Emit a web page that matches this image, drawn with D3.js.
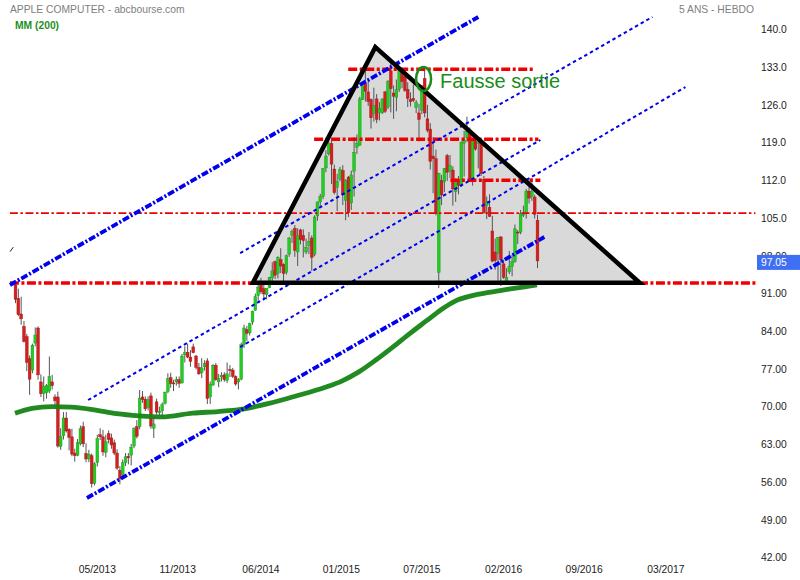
<!DOCTYPE html>
<html><head><meta charset="utf-8">
<script src="https://cdn.jsdelivr.net/npm/d3@7"></script>
<style>
html,body{margin:0;padding:0;background:#fff;}
svg{display:block;font-family:"Liberation Sans",Arial,sans-serif;}
</style></head>
<body><svg id="c" width="800" height="580"></svg>
<script>
// ---- data (weekly candles, index 0 = week of 12/10/2012) ----
const open = [92.6,90.1,87.2,84.9,83.0,78.9,76.8,81.8,84.6,74.6,72.4,72.6,72.9,74.6,71.8,71.8,62.6,64.6,67.9,65.8,
64.4,61.4,61.0,63.1,66.3,61.3,60.3,60.9,55.8,59.6,64.8,64.4,61.5,65.0,64.2,63.3,61.4,58.2,57.4,59.6,
60.8,61.0,62.7,66.3,66.3,71.8,71.4,69.8,72.0,66.0,70.9,68.9,69.2,70.6,72.8,75.4,74.4,74.6,75.0,74.4,
79.6,80.1,79.2,81.1,79.4,77.3,76.3,77.4,78.5,71.8,74.0,77.7,74.6,75.5,75.9,74.9,76.9,76.8,75.6,74.6,
75.1,81.5,84.3,83.7,85.7,87.9,90.6,92.7,91.9,90.8,92.1,93.9,96.9,94.7,97.3,96.4,94.9,98.3,101.8,103.1,
98.7,102.8,101.8,98.7,99.9,101.3,98.3,105.4,108.0,109.0,114.3,116.9,118.8,114.1,110.7,112.2,113.8,108.3,112.6,107.8,
113.7,118.1,118.5,127.0,130.0,128.4,127.0,124.4,127.1,124.6,124.5,128.4,125.6,132.3,128.2,127.4,128.9,132.6,131.2,128.9,
127.0,127.2,125.5,124.5,125.0,130.9,123.4,121.5,116.5,116.0,94.9,112.0,111.7,116.6,113.7,113.9,109.9,112.1,111.0,118.9,
119.9,121.1,112.2,119.3,118.8,119.0,112.2,107.3,107.0,102.6,98.7,98.4,101.5,96.5,93.1,95.0,96.0,96.9,102.4,102.4,
105.5,105.9,110.0,109.0,108.9,104.6];
const high = [93.4,91.9,90.4,85.9,83.5,79.5,81.7,84.7,84.9,76.0,75.6,74.2,79.3,75.9,72.3,72.8,66.0,69.0,69.0,66.0,
65.9,62.2,64.0,66.5,67.2,63.2,62.0,61.3,59.7,64.8,66.0,65.7,64.8,65.6,65.0,63.9,62.1,59.0,60.2,61.4,
61.4,63.1,66.2,67.5,73.1,72.9,71.9,71.9,72.6,68.1,71.5,70.0,70.8,72.8,76.2,76.3,75.0,75.6,75.6,79.8,
81.2,81.7,80.5,81.7,79.6,78.1,79.0,78.6,79.0,74.7,77.9,78.1,76.1,76.4,76.4,78.2,77.7,77.2,75.8,75.3,
81.9,85.2,85.0,85.6,87.8,91.0,92.9,93.9,92.6,92.0,94.1,96.8,97.1,97.9,99.4,96.6,98.2,101.5,102.9,103.7,
103.1,103.0,102.9,101.2,102.4,101.8,105.5,108.0,109.5,114.2,117.6,119.75,119.3,114.9,113.2,114.5,114.8,112.2,112.8,113.8,
120.0,120.5,127.5,129.6,133.6,130.6,127.2,129.2,128.0,126.5,127.2,128.6,130.6,134.5,129.6,130.7,133.0,132.9,131.4,130.2,
128.3,129.8,126.9,126.2,129.7,133.0,126.0,122.6,120.0,117.7,113.4,113.0,114.3,116.9,116.7,114.6,112.3,112.8,119.2,121.2,
123.8,121.8,119.4,119.7,119.4,119.7,112.8,109.0,109.4,105.4,101.2,101.5,101.6,97.3,95.7,98.9,98.2,103.8,102.8,106.5,
107.3,110.4,112.2,112.4,109.3,105.6];
const low = [89.2,86.8,85.2,81.9,76.6,72.2,76.2,81.2,75.0,71.8,71.0,71.5,72.5,73.2,70.0,62.4,62.0,63.9,65.2,61.9,
60.8,59.8,60.8,62.8,62.5,59.7,59.7,55.0,55.4,58.9,63.8,60.9,60.6,63.2,62.2,61.0,58.3,55.6,57.1,59.0,
59.3,59.1,62.3,64.1,65.8,70.7,69.2,69.3,65.9,64.2,68.5,68.4,67.9,70.4,72.5,73.5,72.9,73.9,73.5,74.3,
78.2,79.0,77.4,79.9,76.9,75.9,75.3,76.7,70.5,70.5,73.9,74.8,73.6,74.7,74.6,74.4,75.5,75.3,73.9,73.2,
74.9,80.9,82.2,83.2,85.2,87.8,89.6,90.9,89.7,89.9,92.0,93.1,93.7,93.8,94.8,93.3,94.5,97.8,100.4,97.8,
96.1,100.1,97.7,98.3,98.3,95.2,97.9,104.5,107.0,108.5,113.5,116.6,111.3,109.4,106.3,111.8,107.4,104.6,105.2,106.5,
109.0,116.9,118.4,126.9,126.6,125.8,121.6,122.9,122.6,123.1,124.3,124.5,125.2,124.6,123.4,124.8,128.4,129.1,128.4,125.6,
125.7,126.5,124.5,119.2,124.3,123.7,120.9,114.0,109.6,105.5,92.0,107.4,109.8,111.9,112.4,107.3,108.0,109.4,110.8,112.7,
119.1,112.1,111.0,117.5,114.2,112.8,105.8,104.8,105.2,96.8,95.4,93.4,92.4,93.7,92.6,94.6,94.2,96.7,100.2,102.0,
105.2,104.9,107.7,108.2,104.9,95.7];
const close = [89.9,87.1,86.3,82.1,78.2,75.1,81.4,83.3,75.9,72.4,73.8,73.9,75.6,73.9,71.1,62.7,64.5,67.9,65.5,64.3,
61.2,60.9,63.3,65.9,63.1,60.3,61.2,55.7,59.4,64.1,64.4,61.6,63.5,63.9,62.9,61.4,58.6,56.6,59.6,60.7,
60.5,62.5,65.9,64.5,71.6,71.3,69.6,71.3,66.4,66.8,69.0,69.1,70.4,72.7,75.2,74.3,74.3,75.0,74.3,79.4,
80.0,79.2,78.4,80.0,77.3,76.1,77.2,78.0,71.5,74.2,77.7,75.0,75.2,75.8,75.0,76.1,76.7,75.6,74.2,75.0,
81.5,84.6,83.6,85.4,87.7,90.4,92.2,91.3,90.9,92.0,94.0,95.2,94.4,97.7,96.1,94.7,98.0,101.3,102.5,99.0,
101.7,101.0,100.8,99.6,100.7,97.7,105.2,108.0,109.0,114.2,116.5,118.9,115.0,109.7,111.8,114.0,109.3,112.0,106.0,113.0,
117.2,118.9,127.1,129.5,128.5,126.6,123.6,125.9,123.3,125.3,127.1,124.8,130.3,129.0,127.6,128.8,132.5,130.3,128.7,127.2,
126.6,126.8,126.4,123.3,129.6,124.5,121.3,115.5,116.0,105.8,113.3,109.3,114.2,113.5,114.7,110.4,112.1,111.0,119.1,119.5,
121.1,112.3,119.3,117.8,119.0,113.2,106.0,108.0,105.3,97.0,97.1,101.4,97.3,94.0,94.0,96.0,96.9,103.0,102.3,105.9,
105.7,110.0,108.7,109.9,105.7,97.05];

// 200 MA: [week index, value]
const maIdx = [0,6,13,20,28,36,44,52,63,72,80,90,99,110,116,122,128,134,140,146,151,156,162,168,175,180,185];
const maVal = [68.8,69.7,70.0,69.9,69.4,68.7,68.3,68.1,68.8,69.1,69.5,70.6,71.9,73.6,74.8,76.5,78.7,81.1,83.6,86.0,88.0,89.6,90.6,91.2,91.8,92.2,92.6];

// tick labels
const yTicks = [140,133,126,119,112,105,98,91,84,77,70,63,56,49,42];
const xTickIdx = [29,57.5,87,115.5,144,173,201.5,230.5];
const xTickLab = ["05/2013","11/2013","06/2014","01/2015","07/2015","02/2016","09/2016","03/2017"];
const lastPrice = 97.05;

// drawn figures (week index, price)
const triIdx = [84.3,127.7,221.4];
const triVal = [93.0,136.7,93.0];
const hLineVal = [92.95,105.9,132.6,119.6,112.0];
const hLineFrom = [-1.8,-1.8,118.1,106,154.3];
const hLineTo = [262.4,262.4,183.7,185.5,186.2];
const hLineThick = [true,false,true,true,true];
const chanFromIdx = [-1.77,25.5,25.9,79.8,79.8];
const chanFromVal = [92.58,53.06,71.24,98.51,81.07];
const chanToIdx = [164.2,187.6,186.2,225.9,237.6];
const chanToVal = [142.3,101.48,119.48,142.3,129.3];
const chanThick = [true,true,false,false,false];
const noteIdx = 144.8, noteVal = 130.8, noteText = "Fausse sortie";

// ---- drawing ----
const svg = d3.select("#c");
const x = d3.scaleLinear().domain([0,185]).range([15,537]);
const y = d3.scaleLinear().domain([42,140]).range([557.6,29.4]);

// triangle fill
const triPts = triIdx.map((d,k)=>[x(d),y(triVal[k])]);
svg.append("polygon").attr("points",triPts.map(p=>p.join(",")).join(" "))
  .attr("fill","#d9d9d9").attr("stroke","none");

// candles
const gC = svg.append("g");
const idx = d3.range(close.length);
gC.selectAll("line.w").data(idx).join("line")
  .attr("x1",i=>x(i)+0.5).attr("x2",i=>x(i)+0.5)
  .attr("y1",i=>y(high[i])).attr("y2",i=>y(low[i]))
  .attr("stroke","#555").attr("stroke-width",1);
gC.selectAll("rect").data(idx).join("rect")
  .attr("x",i=>x(i)-0.9).attr("width",2.8)
  .attr("y",i=>y(Math.max(open[i],close[i])))
  .attr("height",i=>Math.max(1,Math.abs(y(open[i])-y(close[i]))))
  .attr("fill",i=>close[i]>=open[i]?"#22cc22":"#d41f1f")
  .attr("stroke",i=>close[i]>=open[i]?"#179417":"#a01414").attr("stroke-width",0.4);

// moving average
svg.append("path").datum(maIdx.map((d,k)=>[d,maVal[k]]))
  .attr("d",d3.line().x(d=>x(d[0])).y(d=>y(d[1])).curve(d3.curveMonotoneX))
  .attr("fill","none").attr("stroke","#158515").attr("stroke-width",4.8).attr("stroke-opacity",0.95);

// red horizontal lines
hLineVal.forEach((v,k)=>{
  svg.append("line").attr("x1",x(hLineFrom[k])).attr("x2",x(hLineTo[k]))
    .attr("y1",y(v)).attr("y2",y(v))
    .attr("stroke","#ee0000")
    .attr("stroke-width",hLineThick[k]?3.5:1.8)
    .attr("stroke-dasharray",hLineThick[k]?"9,2.5,3,2.5":"8,2.5,2.5,2.5");
});

// blue channel lines
chanFromIdx.forEach((d,k)=>{
  svg.append("line").attr("x1",x(d)).attr("y1",y(chanFromVal[k]))
    .attr("x2",x(chanToIdx[k])).attr("y2",y(chanToVal[k]))
    .attr("stroke","#0000ee")
    .attr("stroke-width",chanThick[k]?3.8:2)
    .attr("stroke-dasharray",chanThick[k]?"7,2,2,2":"3.5,3");
});

// small black tick top-left
svg.append("line").attr("x1",x(-1.77)).attr("y1",y(98.75)).attr("x2",x(-0.6)).attr("y2",y(99.6))
  .attr("stroke","#222").attr("stroke-width",1);

// triangle outline
svg.append("polygon").attr("points",triPts.map(p=>p.join(",")).join(" "))
  .attr("fill","none").attr("stroke","#000").attr("stroke-width",4.5).attr("stroke-linejoin","miter");

// annotation
svg.append("ellipse").attr("cx",x(noteIdx)).attr("cy",y(noteVal)).attr("rx",7.5).attr("ry",12)
  .attr("fill","none").attr("stroke","#1a8c1a").attr("stroke-width",2.5);
svg.append("text").attr("x",x(noteIdx)+16.5).attr("y",y(noteVal)+9)
  .attr("font-size",20).attr("fill","#1a8c1a").text(noteText);

// y axis (right)
const ay = svg.append("g").attr("transform","translate(758,0)")
  .call(d3.axisRight(y).tickValues(yTicks).tickSize(0).tickPadding(3)
    .tickFormat(v=>v>=100?v.toFixed(1):v.toFixed(2)));
ay.select(".domain").remove();
ay.selectAll("text").attr("font-size",10.3).attr("fill","#222")
  .attr("font-family","Liberation Sans, Arial, sans-serif");

// x axis (bottom)
const ax = svg.append("g").attr("transform","translate(0,563)")
  .call(d3.axisBottom(x).tickValues(xTickIdx).tickSize(0).tickPadding(3)
    .tickFormat((d,k)=>xTickLab[k]));
ax.select(".domain").remove();
ax.selectAll("text").attr("font-size",10.3).attr("fill","#222")
  .attr("font-family","Liberation Sans, Arial, sans-serif");

// last price box (covers the lower half of the 98.00 label, as in the reference)
svg.append("rect").attr("x",757).attr("y",y(lastPrice)-6).attr("width",43).attr("height",15)
  .attr("fill","#3f6ff2");
svg.append("text").attr("x",761).attr("y",y(lastPrice)+1.5).attr("dy","0.35em")
  .attr("font-size",10.3).attr("fill","#fff").text(lastPrice.toFixed(2));

// headers
svg.append("text").attr("x",10).attr("y",12.5).attr("font-size",10.3).attr("fill","#808080")
  .text("APPLE COMPUTER - abcbourse.com");
svg.append("text").attr("x",15).attr("y",28.5).attr("font-size",10.3).attr("fill","#1f8f1f")
  .attr("font-weight","bold").text("MM (200)");
svg.append("text").attr("x",754).attr("y",12.5).attr("font-size",10.3).attr("fill","#808080")
  .attr("text-anchor","end").text("5 ANS - HEBDO");
</script></body></html>
